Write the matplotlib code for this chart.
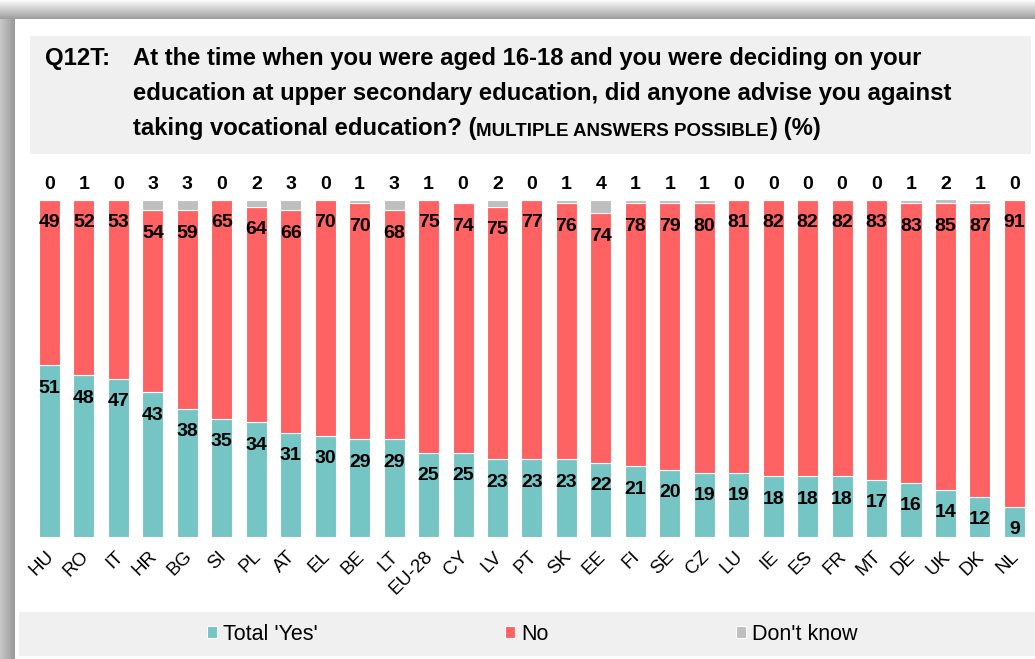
import matplotlib.pyplot as plt
import matplotlib.transforms as mtransforms
import numpy as np
from matplotlib.patches import Rectangle

plt.switch_backend("Agg")

countries = ["HU", "RO", "IT", "HR", "BG", "SI", "PL", "AT", "EL", "BE", "LT", "EU-28",
             "CY", "LV", "PT", "SK", "EE", "FI", "SE", "CZ", "LU", "IE", "ES", "FR",
             "MT", "DE", "UK", "DK", "NL"]
yes_vals = [51, 48, 47, 43, 38, 35, 34, 31, 30, 29, 29, 25, 25, 23, 23, 23, 22, 21,
            20, 19, 19, 18, 18, 18, 17, 16, 14, 12, 9]
no_vals = [49, 52, 53, 54, 59, 65, 64, 66, 70, 70, 68, 75, 74, 75, 77, 76, 74, 78,
           79, 80, 81, 82, 82, 82, 83, 83, 85, 87, 91]
dk_vals = [0, 1, 0, 3, 3, 0, 2, 3, 0, 1, 3, 1, 0, 2, 0, 1, 4, 1, 1, 1, 0, 0, 0, 0,
           0, 1, 2, 1, 0]
series_names = ["Total 'Yes'", "No", "Don't know"]

title_lines = [
    "At the time when you were aged 16-18 and you were deciding on your",
    "education at upper secondary education, did anyone advise you against",
    "taking vocational education? (",
]

TEAL = "#74C5C4"
RED = "#FF6262"
GRAY = "#BFBFBF"
BOX = "#F0F0F0"

W, H = 1035, 659
plt.rcParams["font.family"] = ["Liberation Sans", "DejaVu Sans"]

fig = plt.figure(figsize=(W / 100, H / 100), dpi=100)

# background frame with a soft shadow on top and left, drawn in pixel units
bg = fig.add_axes([0, 0, 1, 1], zorder=-10)
shade = np.ones((H, W))
shade[:19, :] = np.linspace(0.98, 0.62, 19)[:, None]
shade[19:, :15] = np.linspace(0.78, 0.60, 15)[None, :]
bg.imshow(shade, cmap="gray", vmin=0, vmax=1, extent=(0, W, H, 0),
          aspect="auto", interpolation="nearest")
bg.set_xlim(0, W)
bg.set_ylim(H, 0)
bg.axis("off")

bg.add_patch(Rectangle((30, 36), 1001, 118, color=BOX, lw=0))
bg.add_patch(Rectangle((19, 612), 1016, 44, color=BOX, lw=0))

# title
tkw = dict(fontsize=17.2, fontweight="bold", va="baseline", color="black")
bg.text(45, 65, "Q12T:", **tkw)
bg.text(133, 65, title_lines[0], **tkw)
bg.text(133, 100, title_lines[1], **tkw)
t1 = bg.text(133, 135, title_lines[2], **tkw)
t2 = bg.annotate("MULTIPLE ANSWERS POSSIBLE", xy=(1, 0), xycoords=t1,
                 fontsize=13.5, fontweight="bold", va="bottom", ha="left")
bg.annotate(") (%)", xy=(1, 0), xycoords=t2, fontsize=17.2, fontweight="bold",
            va="bottom", ha="left")

# main chart
spacing = 34.46
left_px = 49.5 - 0.5 * spacing
ax = fig.add_axes([left_px / W, 122 / H, 29 * spacing / W, 337 / H])
ax.patch.set_alpha(0)

x = np.arange(len(countries))
yes = np.array(yes_vals)
no = np.array(no_vals)
dk = np.array(dk_vals)
bw = 0.61
bkw = dict(edgecolor="white", linewidth=0.8)
b1 = ax.bar(x, yes, bw, color=TEAL, label=series_names[0], **bkw)
b2 = ax.bar(x, no, bw, bottom=yes, color=RED, label=series_names[1], **bkw)
b3 = ax.bar(x, dk, bw, bottom=yes + no, color=GRAY, label=series_names[2], **bkw)

lkw = dict(textcoords="offset points", ha="center", va="center",
           fontsize=14, fontweight="bold", color="black", annotation_clip=False)
for i in range(len(countries)):
    ax.annotate(str(yes[i]), xy=(x[i], yes[i]), xytext=(0, -16.5), **lkw)
    ax.annotate(str(no[i]), xy=(x[i], yes[i] + no[i]), xytext=(0, -16.5), **lkw)
    ax.annotate(str(dk[i]), xy=(x[i], 100), xytext=(0, 11), **lkw)

ax.set_xlim(-0.5, len(countries) - 0.5)
ax.set_ylim(0, 100)
ax.set_xticks(x)
ax.set_xticklabels(countries, rotation=45, ha="right", rotation_mode="anchor",
                   fontsize=13.5)
ax.tick_params(axis="x", length=0, pad=8)
shift = mtransforms.ScaledTranslation(-0.04, 0, fig.dpi_scale_trans)
for lab in ax.get_xticklabels():
    lab.set_transform(lab.get_transform() + shift)
ax.set_yticks([])
for s in ax.spines.values():
    s.set_visible(False)

fig.legend(handles=[b1, b2, b3], labels=series_names, loc="center",
           bbox_to_anchor=(532 / W, 1 - 634 / H), ncol=3, frameon=False,
           fontsize=15.5, handlelength=0.47, handleheight=0.47, handletextpad=0.28,
           columnspacing=8.7)

fig.savefig("out.png", dpi=100)
